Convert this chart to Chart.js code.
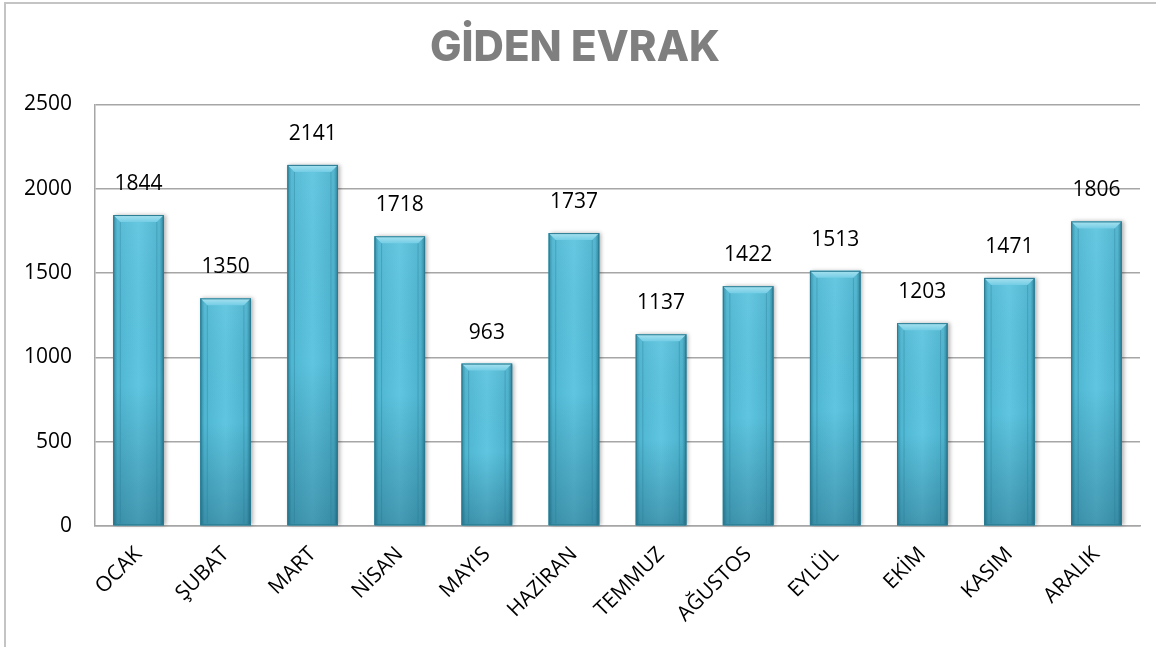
<!DOCTYPE html>
<html lang="tr">
<head>
<meta charset="utf-8">
<title>Giden Evrak</title>
<script src="https://cdn.jsdelivr.net/npm/chart.js@4.4.1/dist/chart.umd.min.js"></script>
<style>
  html, body { margin: 0; padding: 0; background: #fff; }
  #frame {
    position: absolute; left: 4px; top: 2px; width: 1300px; height: 800px;
    border-left: 2px solid #c4c4c4; border-top: 2px solid #c4c4c4;
  }
  #wrap { position: absolute; left: 0; top: 0; width: 1156px; height: 647px; }
</style>
</head>
<body>
<div id="frame"></div>
<div id="wrap"><canvas id="evrakChart" width="1156" height="647"></canvas></div>
<script>
// Aylar ve giden evrak sayilari
const aylar = ["OCAK", "ŞUBAT", "MART", "NİSAN", "MAYIS", "HAZİRAN", "TEMMUZ", "AĞUSTOS", "EYLÜL", "EKİM", "KASIM", "ARALIK"];
const gidenEvrak = [1844, 1350, 2141, 1718, 963, 1737, 1137, 1422, 1513, 1203, 1471, 1806];
const yEksenMax = 2500;
const yEksenAdim = 500;

const ETIKET_FONT = "'Open Sans', 'DejaVu Sans', sans-serif";

// Cubuklara kabartma (bevel) gorunumu ver
const bevelPlugin = {
  id: 'bevel',
  afterDatasetsDraw(chart) {
    const ctx = chart.ctx;
    const meta = chart.getDatasetMeta(0);
    meta.data.forEach(bar => {
      const w = bar.width;
      const left = bar.x - w / 2;
      const right = bar.x + w / 2;
      const top = bar.y;
      const bottom = bar.base;
      const b = 7;

      ctx.save();
      // golge
      ctx.shadowColor = 'rgba(0,0,0,0.30)';
      ctx.shadowBlur = 4;
      ctx.shadowOffsetX = 2;
      ctx.fillStyle = '#3a9bb4';
      ctx.fillRect(left, top, w, bottom - top);
      ctx.restore();

      ctx.save();
      // govde - yatay degrade
      const g = ctx.createLinearGradient(left, 0, right, 0);
      g.addColorStop(0, '#2f8aa2');
      g.addColorStop(0.08, '#4fb6d1');
      g.addColorStop(0.5, '#5fc5e0');
      g.addColorStop(0.92, '#4cb2cd');
      g.addColorStop(1, '#2a7d94');
      ctx.fillStyle = g;
      ctx.fillRect(left, top, w, bottom - top);

      // alt kisim koyulasiyor
      const gv = ctx.createLinearGradient(0, top, 0, bottom);
      gv.addColorStop(0, 'rgba(255,255,255,0.05)');
      gv.addColorStop(0.55, 'rgba(0,40,60,0.0)');
      gv.addColorStop(1, 'rgba(0,40,60,0.28)');
      ctx.fillStyle = gv;
      ctx.fillRect(left, top, w, bottom - top);

      // ust kapak
      ctx.beginPath();
      ctx.moveTo(left, top);
      ctx.lineTo(right, top);
      ctx.lineTo(right - b, top + b);
      ctx.lineTo(left + b, top + b);
      ctx.closePath();
      const gt = ctx.createLinearGradient(0, top, 0, top + b);
      gt.addColorStop(0, '#a8e2f0');
      gt.addColorStop(1, '#74cde5');
      ctx.fillStyle = gt;
      ctx.fill();

      // ic kenar cizgileri
      ctx.strokeStyle = 'rgba(40,120,145,0.35)';
      ctx.lineWidth = 1;
      ctx.beginPath();
      ctx.moveTo(left + b, top + b);
      ctx.lineTo(left + b, bottom - 2);
      ctx.moveTo(right - b, top + b);
      ctx.lineTo(right - b, bottom - 2);
      ctx.stroke();

      // dis cizgi
      ctx.strokeStyle = '#2b7c92';
      ctx.strokeRect(left + 0.5, top + 0.5, w - 1, bottom - top - 1);
      ctx.restore();
    });
  }
};

// Deger etiketleri
const degerPlugin = {
  id: 'degerler',
  afterDatasetsDraw(chart) {
    const ctx = chart.ctx;
    const meta = chart.getDatasetMeta(0);
    ctx.save();
    ctx.font = "21px " + ETIKET_FONT;
    ctx.fillStyle = '#000';
    ctx.textAlign = 'center';
    ctx.textBaseline = 'middle';
    meta.data.forEach((bar, i) => {
      ctx.fillText(String(gidenEvrak[i]), bar.x, bar.y - 31);
    });
    ctx.restore();
  }
};

const ctx = document.getElementById('evrakChart');
new Chart(ctx, {
  type: 'bar',
  data: {
    labels: aylar,
    datasets: [{
      label: 'Giden Evrak',
      data: gidenEvrak,
      backgroundColor: '#4fb5d0',
      categoryPercentage: 1.0,
      barPercentage: 0.58
    }]
  },
  options: {
    responsive: false,
    animation: false,
    devicePixelRatio: 1,
    layout: { padding: { left: 10, right: 16, top: 0, bottom: 10 } },
    plugins: {
      legend: { display: false },
      tooltip: { enabled: false },
      title: {
        display: true,
        text: 'GİDEN EVRAK',
        color: '#7f7f7f',
        font: { family: "Inter, 'DejaVu Sans', sans-serif", size: 42, weight: '800', lineHeight: 1.2 },
        padding: { top: 23, bottom: 31 }
      }
    },
    scales: {
      x: {
        grid: { display: false },
        border: { color: '#a6a6a6', width: 1.5 },
        ticks: {
          color: '#000',
          font: { family: ETIKET_FONT, size: 21 },
          minRotation: 45,
          maxRotation: 45,
          padding: 8
        },
        afterFit(scale) { scale.height = 111; }
      },
      y: {
        min: 0,
        max: yEksenMax,
        border: { color: '#a6a6a6', width: 1.5 },
        grid: { color: '#a6a6a6', lineWidth: 1.5, drawTicks: false },
        ticks: {
          stepSize: yEksenAdim,
          color: '#000',
          font: { family: ETIKET_FONT, size: 21 },
          padding: 23,
          callback: v => String(v)
        },
        afterFit(scale) { scale.width = 85; }
      }
    }
  },
  plugins: [bevelPlugin, degerPlugin]
});
</script>
</body>
</html>
